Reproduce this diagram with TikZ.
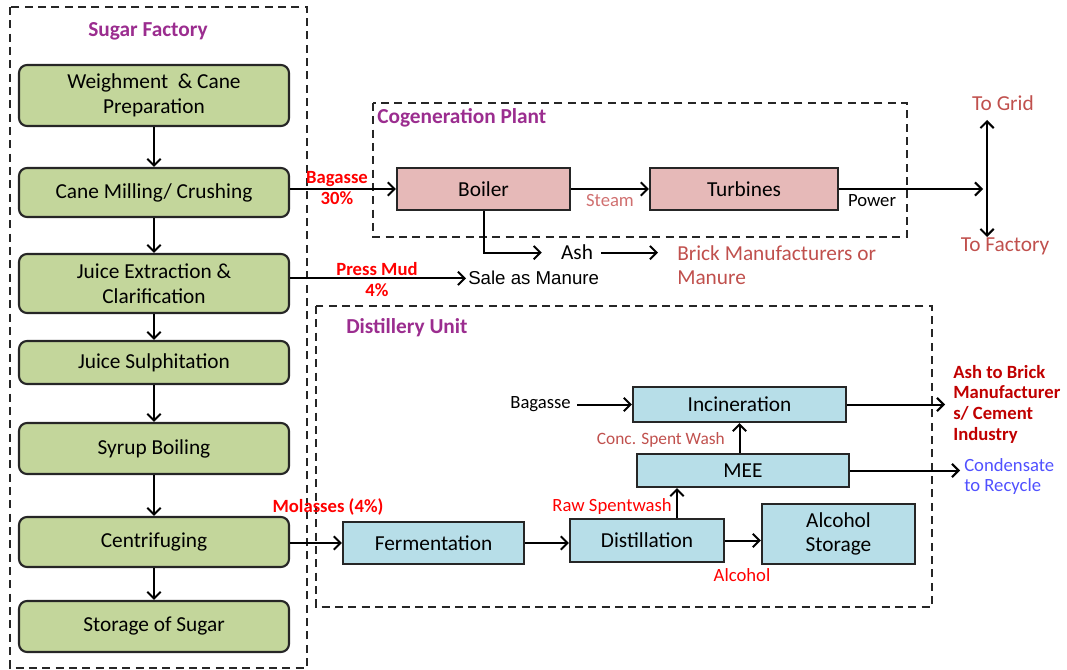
\documentclass[tikz,border=0pt]{standalone}
\usepackage{fontspec}
\setmainfont{Carlito}
\newfontfamily\arialf{Liberation Sans}
\usetikzlibrary{arrows.meta,calc}
\definecolor{gfill}{HTML}{C3D69B}
\definecolor{pfill}{HTML}{E6B9B8}
\definecolor{bfill}{HTML}{B7DEE8}
\definecolor{ttl}{HTML}{9B2D8F}
\definecolor{rd}{HTML}{FF0000}
\definecolor{pr}{HTML}{C0504D}
\definecolor{lpr}{HTML}{D07070}
\definecolor{drd}{HTML}{C00000}
\definecolor{bl}{HTML}{5050FF}
\begin{document}
\begin{tikzpicture}[x=0.75pt,y=-0.75pt,
  >={Straight Barb[length=5pt,width=10pt]},
  box/.style={draw=black!85, line width=1.6pt, align=center, inner sep=0pt, font=\fontsize{16}{18.5}\selectfont},
  gbox/.style={box, fill=gfill, rounded corners=6pt, minimum width=202.5pt},
  pbox/.style={box, fill=pfill, minimum height=31.5pt},
  bbox/.style={box, fill=bfill},
  grp/.style={draw=black!85, line width=1.5pt, dash pattern=on 6pt off 4pt},
  ttlf/.style={text=ttl, inner sep=0pt, font=\fontsize{16}{18}\selectfont\bfseries},
  arr/.style={line width=1.5pt, ->},
  lbl/.style={inner sep=0pt, font=\fontsize{14}{15.5}\selectfont},
  rlbl/.style={inner sep=0pt, text=rd, font=\fontsize{14}{15.75}\selectfont\bfseries},
  big/.style={inner sep=0pt, font=\fontsize{16}{18}\selectfont},
]
\useasboundingbox (0,0) rectangle (1067,670);

% group frames
\draw[grp] (10,7) rectangle (307,668);
\draw[grp] (373,103) rectangle (907,237);
\draw[grp] (316,306) rectangle (932,607);

\node[ttlf, anchor=base] (tsf) at (148,37) {Sugar Factory};
\node[ttlf, anchor=base west] (tcp) at (377,124) {Cogeneration Plant};
\node[ttlf, anchor=base west] (tdu) at (346,334) {Distillery Unit};

% sugar factory
\node[gbox, minimum height=45.75pt] (g1) at (154,95.5) {Weighment \ \& Cane\\Preparation};
\node[gbox, minimum height=36.75pt] (g2) at (154,192.5) {Cane Milling/ Crushing};
\node[gbox, minimum height=44.25pt] (g3) at (154,283.5) {Juice Extraction \&\\Clarification};
\node[gbox, minimum height=32.25pt] (g4) at (154,362.5) {Juice Sulphitation};
\node[gbox, minimum height=38.25pt] (g5) at (154,448.5) {Syrup Boiling};
\node[gbox, minimum height=37.5pt] (g6) at (154,542) {Centrifuging};
\node[gbox, minimum height=38.25pt] (g7) at (154,626.5) {Storage of Sugar};
\draw[arr] (g1) -- (g2);
\draw[arr] (g2) -- (g3);
\draw[arr] (g3) -- (g4);
\draw[arr] (g4) -- (g5);
\draw[arr] (g5) -- (g6);
\draw[arr] (g6) -- (g7);

% cogeneration
\node[pbox, minimum width=129.75pt] (boiler) at (483.5,189) {Boiler};
\node[pbox, minimum width=141pt] (turb) at (744,189) {Turbines};
\draw[arr] (boiler.west -| g2.east) -- (boiler.west);
\node[rlbl, align=center] (bagl) at (337,188) {Bagasse\\30\%};
\draw[arr] (boiler.east) -- (boiler.east -| turb.west);
\node[lbl, text=lpr, anchor=base] (steam) at (610,207) {Steam};

\coordinate (gtop) at (987,120);
\coordinate (gbot) at (987,237);
\draw[line width=1.5pt, <->] (gbot) -- (gtop);
\draw[arr] (turb.east) -- ($(turb.east -| gtop)+(-4,0)$);
\node[lbl, anchor=base] (pow) at (872,207) {Power};
\node[big, text=pr, anchor=base] (grid) at (1003,111) {To Grid};
\node[big, text=pr, anchor=base] (fact) at (1005,252) {To Factory};

\node[big, anchor=base] (ash) at (577,260) {Ash};
\draw[arr] (boiler.south) |- ($(ash.west)+(-19,0)$);
\node[big, text=pr, anchor=base west, align=left] (brick) at (677,285) {Brick Manufacturers or\\Manure};
\draw[arr] ($(ash.east)+(8,0)$) -- ($(ash.east -| brick.west)+(-19,0)$);

\node[inner sep=0pt, anchor=base west, font=\arialf\fontsize{14}{16}\selectfont] (sale) at (468,285) {Sale as Manure};
\draw[arr] (g3.east |- sale.west) -- ($(sale.west)+(-2,0)$);
\node[rlbl, align=center] (pm) at (377,280) {Press Mud\\4\%};

% distillery
\node[bbox, minimum width=135.75pt, minimum height=31.5pt] (ferm) at (433.5,543) {Fermentation};
\node[bbox, minimum width=115.5pt, minimum height=32.25pt] (dist) at (647,540.5) {Distillation};
\node[bbox, minimum width=114.75pt, minimum height=45pt] (alc) at (838.5,534) {Alcohol\\Storage};
\node[bbox, minimum width=159pt, minimum height=24.75pt] (mee) at (743,470.5) {MEE};
\node[bbox, minimum width=159.75pt, minimum height=26.25pt] (inc) at (739.5,404.5) {Incineration};

\draw[arr] (ferm.west -| g6.east) -- (ferm.west);
\node[rlbl, anchor=base] (mol) at (328,512) {Molasses (4\%)};
\draw[arr] (ferm.east) -- (ferm.east -| dist.west);
\draw[arr] (dist.east) -- (dist.east -| alc.west);
\node[lbl, text=rd, anchor=base] (alcl) at (742,581) {Alcohol};
\coordinate (rs) at ($(dist.north)+(30,0)$);
\draw[arr] (rs) -- (rs |- mee.south);
\node[lbl, text=rd, anchor=base east] (rsl) at (672,511) {Raw Spentwash};
\draw[arr] (mee.north -| inc.south) -- (inc.south);
\node[inner sep=0pt, text=pr, anchor=base east, font=\fontsize{13}{15}\selectfont] (csw) at (725,444) {Conc. Spent Wash};
\node[lbl, anchor=base east] (bag2) at (571,408) {Bagasse};
\draw[arr] ($(bag2.east |- inc.west)+(6,0)$) -- (inc.west);

\node[rlbl, text=drd, anchor=base west, align=left, font=\fontsize{14}{15.4}\selectfont\bfseries] (ashb) at (953,440) {Ash to Brick\\Manufacturer\\s/ Cement\\Industry};
\draw[arr] (inc.east) -- ($(inc.east -| ashb.west)+(-8,0)$);
\node[lbl, text=bl, anchor=base west, align=left, font=\fontsize{14}{15}\selectfont] (cond) at (964,491) {Condensate\\to Recycle};
\draw[arr] (mee.east) -- ($(mee.east -| cond.west)+(-4,0)$);
\end{tikzpicture}
\end{document}
